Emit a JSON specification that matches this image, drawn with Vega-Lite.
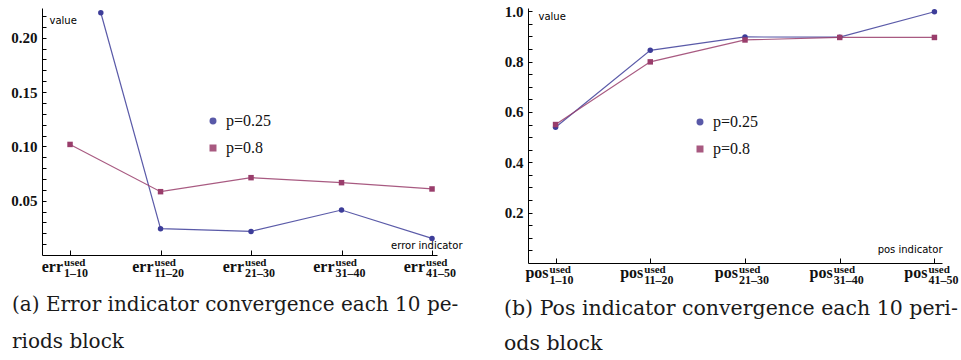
{
  "$schema": "https://vega.github.io/schema/vega-lite/v6.json",
  "background": "white",
  "padding": {"left": 10, "top": 4, "right": 0, "bottom": 0},
  "spacing": 91,
  "bounds": "flush",
  "datasets": {
    "errData": [
      {"block": 1.34, "value": 0.223, "series": "p=0.25"},
      {"block": 2, "value": 0.0242, "series": "p=0.25"},
      {"block": 3, "value": 0.0217, "series": "p=0.25"},
      {"block": 4, "value": 0.0414, "series": "p=0.25"},
      {"block": 5, "value": 0.0153, "series": "p=0.25"},
      {"block": 1, "value": 0.1018, "series": "p=0.8"},
      {"block": 2, "value": 0.0583, "series": "p=0.8"},
      {"block": 3, "value": 0.0712, "series": "p=0.8"},
      {"block": 4, "value": 0.0666, "series": "p=0.8"},
      {"block": 5, "value": 0.0608, "series": "p=0.8"}
    ],
    "posData": [
      {"block": 1, "value": 0.539, "series": "p=0.25"},
      {"block": 2, "value": 0.845, "series": "p=0.25"},
      {"block": 3, "value": 0.898, "series": "p=0.25"},
      {"block": 4, "value": 0.897, "series": "p=0.25"},
      {"block": 5, "value": 0.998, "series": "p=0.25"},
      {"block": 1, "value": 0.55, "series": "p=0.8"},
      {"block": 2, "value": 0.799, "series": "p=0.8"},
      {"block": 3, "value": 0.886, "series": "p=0.8"},
      {"block": 4, "value": 0.896, "series": "p=0.8"},
      {"block": 5, "value": 0.896, "series": "p=0.8"}
    ],
    "errLabels": [
      {"block": 1, "base": "err", "sup": "used", "sub": "1–10"},
      {"block": 2, "base": "err", "sup": "used", "sub": "11–20"},
      {"block": 3, "base": "err", "sup": "used", "sub": "21–30"},
      {"block": 4, "base": "err", "sup": "used", "sub": "31–40"},
      {"block": 5, "base": "err", "sup": "used", "sub": "41–50"}
    ],
    "posLabels": [
      {"block": 1, "base": "pos", "sup": "used", "sub": "1–10"},
      {"block": 2, "base": "pos", "sup": "used", "sub": "11–20"},
      {"block": 3, "base": "pos", "sup": "used", "sub": "21–30"},
      {"block": 4, "base": "pos", "sup": "used", "sub": "31–40"},
      {"block": 5, "base": "pos", "sup": "used", "sub": "41–50"}
    ]
  },
  "hconcat": [
    {
      "width": 395,
      "height": 247,
      "title": {
        "text": ["(a) Error indicator convergence each 10 pe-", "riods block"],
        "orient": "bottom", "anchor": "start", "frame": "group",
        "dx": -30, "offset": 16, "baseline": "top",
        "font": "DejaVu Serif", "fontSize": 20, "fontWeight": "normal",
        "lineHeight": 37, "color": "#1a1a1a"
      },
      "layer": [
        {
          "data": {"name": "errData"},
          "encoding": {
            "x": {"field": "block", "type": "quantitative",
              "scale": {"domain": [0.69, 5.055], "nice": false, "zero": false},
              "axis": {"values": [1, 2, 3, 4, 5], "labels": false, "tickSize": -5,
                "title": "error indicator", "titleX": 420, "titleY": -7, "titleAlign": "right"}},
            "y": {"field": "value", "type": "quantitative",
              "scale": {"domain": [0, 0.2274], "nice": false},
              "axis": {
                "values": [0.01,0.02,0.03,0.04,0.05,0.06,0.07,0.08,0.09,0.1,0.11,0.12,0.13,0.14,0.15,0.16,0.17,0.18,0.19,0.2,0.21,0.22],
                "labelExpr": "abs(datum.value*20 - round(datum.value*20)) < 0.001 ? format(datum.value, '.2f') : ''",
                "tickSize": -4, "title": "value", "titleAngle": 0, "titleX": 7, "titleY": 15, "titleAlign": "left"}},
            "color": {"field": "series", "type": "nominal",
              "scale": {"domain": ["p=0.25", "p=0.8"], "range": ["#3d3d99", "#993d6b"]},
              "legend": {"orient": "none", "legendX": 163, "legendY": 105, "title": null}}
          },
          "layer": [
            {"mark": {"type": "line", "strokeWidth": 1.2, "opacity": 0.85}},
            {
              "mark": {"type": "point", "filled": true, "opacity": 1, "size": 30},
              "encoding": {
                "shape": {"field": "series", "type": "nominal",
                  "scale": {"domain": ["p=0.25", "p=0.8"], "range": ["circle", "square"]},
                  "legend": {"orient": "none", "legendX": 163, "legendY": 105, "title": null}}
              }
            }
          ]
        },
        {
          "data": {"name": "errLabels"},
          "encoding": {
            "x": {"field": "block", "type": "quantitative",
              "axis": {"values": [1, 2, 3, 4, 5], "labels": false, "tickSize": -5,
                "title": "error indicator", "titleX": 420, "titleY": -7, "titleAlign": "right"}},
            "y": {"datum": 0, "type": "quantitative",
              "axis": {
                "values": [0.01,0.02,0.03,0.04,0.05,0.06,0.07,0.08,0.09,0.1,0.11,0.12,0.13,0.14,0.15,0.16,0.17,0.18,0.19,0.2,0.21,0.22],
                "labelExpr": "abs(datum.value*20 - round(datum.value*20)) < 0.001 ? format(datum.value, '.2f') : ''",
                "tickSize": -4, "title": "value", "titleAngle": 0, "titleX": 7, "titleY": 15, "titleAlign": "left"}}
          },
          "layer": [
            {
              "mark": {"type": "text", "align": "right", "baseline": "alphabetic", "dx": -7, "dy": 17,
                "font": "Liberation Serif", "fontSize": 16, "fontWeight": "bold", "color": "#111"},
              "encoding": {"text": {"field": "base"}}
            },
            {
              "mark": {"type": "text", "align": "left", "baseline": "alphabetic", "dx": -6, "dy": 10.5,
                "font": "Liberation Serif", "fontSize": 11, "fontWeight": "bold", "color": "#111"},
              "encoding": {"text": {"field": "sup"}}
            },
            {
              "mark": {"type": "text", "align": "left", "baseline": "alphabetic", "dx": -6, "dy": 21.5,
                "font": "Liberation Serif", "fontSize": 12, "fontWeight": "bold", "color": "#111"},
              "encoding": {"text": {"field": "sub"}}
            }
          ]
        }
      ]
    },
    {
      "width": 414,
      "height": 255,
      "title": {
        "text": ["(b) Pos indicator convergence each 10 peri-", "ods block"],
        "orient": "bottom", "anchor": "start", "frame": "group",
        "dx": -24, "offset": 13, "baseline": "top",
        "font": "DejaVu Serif", "fontSize": 20.5, "fontWeight": "normal",
        "lineHeight": 35, "color": "#1a1a1a"
      },
      "layer": [
        {
          "data": {"name": "posData"},
          "encoding": {
            "x": {"field": "block", "type": "quantitative",
              "scale": {"domain": [0.709, 5.08], "nice": false, "zero": false},
              "axis": {"values": [1, 2, 3, 4, 5], "labels": false, "tickSize": -5,
                "title": "pos indicator", "titleX": 414, "titleY": -11, "titleAlign": "right"}},
            "y": {"field": "value", "type": "quantitative",
              "scale": {"domain": [0, 1.013], "nice": false},
              "axis": {
                "values": [0.05,0.1,0.15,0.2,0.25,0.3,0.35,0.4,0.45,0.5,0.55,0.6,0.65,0.7,0.75,0.8,0.85,0.9,0.95,1.0],
                "labelExpr": "abs(datum.value*5 - round(datum.value*5)) < 0.001 ? format(datum.value, '.1f') : ''",
                "tickSize": -4, "title": "value", "titleAngle": 0, "titleX": 10, "titleY": 11, "titleAlign": "left"}},
            "color": {"field": "series", "type": "nominal",
              "scale": {"domain": ["p=0.25", "p=0.8"], "range": ["#3d3d99", "#993d6b"]},
              "legend": {"orient": "none", "legendX": 164, "legendY": 106, "title": null}}
          },
          "layer": [
            {"mark": {"type": "line", "strokeWidth": 1.2, "opacity": 0.85}},
            {
              "mark": {"type": "point", "filled": true, "opacity": 1, "size": 30},
              "encoding": {
                "shape": {"field": "series", "type": "nominal",
                  "scale": {"domain": ["p=0.25", "p=0.8"], "range": ["circle", "square"]},
                  "legend": {"orient": "none", "legendX": 164, "legendY": 106, "title": null}}
              }
            }
          ]
        },
        {
          "data": {"name": "posLabels"},
          "encoding": {
            "x": {"field": "block", "type": "quantitative",
              "axis": {"values": [1, 2, 3, 4, 5], "labels": false, "tickSize": -5,
                "title": "pos indicator", "titleX": 414, "titleY": -11, "titleAlign": "right"}},
            "y": {"datum": 0, "type": "quantitative",
              "axis": {
                "values": [0.05,0.1,0.15,0.2,0.25,0.3,0.35,0.4,0.45,0.5,0.55,0.6,0.65,0.7,0.75,0.8,0.85,0.9,0.95,1.0],
                "labelExpr": "abs(datum.value*5 - round(datum.value*5)) < 0.001 ? format(datum.value, '.1f') : ''",
                "tickSize": -4, "title": "value", "titleAngle": 0, "titleX": 10, "titleY": 11, "titleAlign": "left"}}
          },
          "layer": [
            {
              "mark": {"type": "text", "align": "right", "baseline": "alphabetic", "dx": -7, "dy": 15,
                "font": "Liberation Serif", "fontSize": 16, "fontWeight": "bold", "color": "#111"},
              "encoding": {"text": {"field": "base"}}
            },
            {
              "mark": {"type": "text", "align": "left", "baseline": "alphabetic", "dx": -6, "dy": 10,
                "font": "Liberation Serif", "fontSize": 11, "fontWeight": "bold", "color": "#111"},
              "encoding": {"text": {"field": "sup"}}
            },
            {
              "mark": {"type": "text", "align": "left", "baseline": "alphabetic", "dx": -6, "dy": 21,
                "font": "Liberation Serif", "fontSize": 12, "fontWeight": "bold", "color": "#111"},
              "encoding": {"text": {"field": "sub"}}
            }
          ]
        }
      ]
    }
  ],
  "resolve": {"scale": {"color": "independent", "shape": "independent", "x": "independent", "y": "independent"}},
  "config": {
    "view": {"stroke": null},
    "axis": {
      "domainWidth": 1, "tickWidth": 1, "grid": false,
      "tickColor": "black", "domainColor": "black",
      "labelOverlap": false, "labelBound": false, "labelFlush": false,
      "labelFont": "Liberation Serif", "labelFontSize": 15, "labelFontWeight": "bold",
      "labelColor": "#111", "labelPadding": 9,
      "titleBaseline": "alphabetic", "titleFont": "DejaVu Sans", "titleFontSize": 10,
      "titleFontWeight": "normal", "titleColor": "black"
    },
    "legend": {
      "labelFont": "Liberation Serif", "labelFontSize": 16, "labelColor": "#111",
      "rowPadding": 11, "symbolSize": 30, "labelOffset": 5
    }
  }
}
